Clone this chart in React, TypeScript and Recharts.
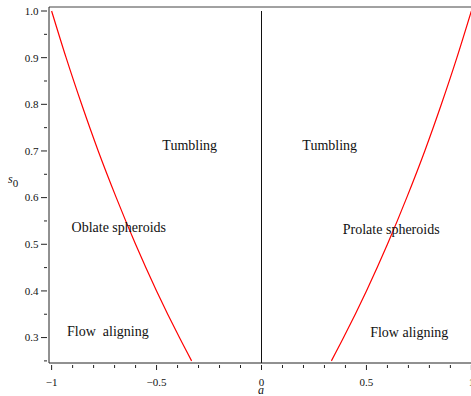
import React from "react";
import { LineChart, Line, XAxis, YAxis, ReferenceLine, ReferenceDot } from "recharts";

// Boundary curves (s0 vs a)
const rightA = [1.0, 0.931, 0.857, 0.778, 0.692, 0.6, 0.5, 0.391, 0.333];
const rightS = [1.0, 0.9, 0.8, 0.7, 0.6, 0.5, 0.4, 0.3, 0.25];
const leftA = [-1.0, -0.931, -0.857, -0.778, -0.692, -0.6, -0.5, -0.391, -0.333];
const leftS = [1.0, 0.9, 0.8, 0.7, 0.6, 0.5, 0.4, 0.3, 0.25];

const xTicks = [-1, -0.9, -0.8, -0.7, -0.6, -0.5, -0.4, -0.3, -0.2, -0.1, 0, 0.1, 0.2, 0.3, 0.4, 0.5, 0.6, 0.7, 0.8, 0.9, 1];
const xLabels = ["−1", "", "", "", "", "−0.5", "", "", "", "", "0", "", "", "", "", "0.5", "", "", "", "", "1"];
const yTicks = [0.25, 0.3, 0.35, 0.4, 0.45, 0.5, 0.55, 0.6, 0.65, 0.7, 0.75, 0.8, 0.85, 0.9, 0.95, 1.0];
const yLabels = ["", "0.3", "", "0.4", "", "0.5", "", "0.6", "", "0.7", "", "0.8", "", "0.9", "", "1.0"];

const regionText = ["Tumbling", "Tumbling", "Oblate spheroids", "Prolate spheroids", "Flow\u00A0 aligning", "Flow aligning"];
const regionA = [-0.342, 0.325, -0.68, 0.618, -0.732, 0.704];
const regionS = [0.713, 0.713, 0.538, 0.533, 0.313, 0.312];

const X_DOMAIN: [number, number] = [-1.0125, 1.0125];
const Y_DOMAIN: [number, number] = [0.2455, 1.0086];

const rightData = rightA.map((a, i) => ({ a, s: rightS[i] }));
const leftData = leftA.map((a, i) => ({ a, s: leftS[i] }));

const FONT = '"Liberation Serif", "Times New Roman", serif';
const AXIS = "#222";

const XTick = (props: any) => {
  const { x, y, payload } = props;
  const idx = xTicks.findIndex((v) => Math.abs(v - payload.value) < 1e-6);
  const label = idx >= 0 ? xLabels[idx] : "";
  const major = label !== "";
  return (
    <g>
      <line x1={x} x2={x} y1={y} y2={y + (major ? 5 : 3)} stroke={AXIS} strokeWidth={1} />
      {major && (
        <text x={x} y={y + 13} dy="0.71em" textAnchor="middle" fontSize={11} fill="#111" style={{ fontFamily: FONT }}>
          {label}
        </text>
      )}
    </g>
  );
};

const YTick = (props: any) => {
  const { x, y, payload } = props;
  const idx = yTicks.findIndex((v) => Math.abs(v - payload.value) < 1e-6);
  const label = idx >= 0 ? yLabels[idx] : "";
  const major = label !== "";
  return (
    <g>
      <line x1={x - (major ? 6 : 3)} x2={x} y1={y} y2={y} stroke={AXIS} strokeWidth={1} />
      {major && (
        <text x={x - 8.5} y={y} dy="0.35em" textAnchor="end" fontSize={11} fill="#111" style={{ fontFamily: FONT }}>
          {label}
        </text>
      )}
    </g>
  );
};

const YLabel = (props: any) => {
  const vb = props.viewBox || { x: 0, y: 0, width: 49, height: 356 };
  const cx = vb.x + 8;
  const cy = vb.y + vb.height * 0.495;
  return (
    <text x={cx} y={cy} fontSize={12} fill="#111" style={{ fontFamily: FONT }}>
      <tspan fontStyle="italic">s</tspan>
      <tspan dy={4} fontSize={11}>0</tspan>
    </text>
  );
};

const XLabel = (props: any) => {
  const vb = props.viewBox || { x: 49, y: 363, width: 425, height: 30 };
  return (
    <text x={vb.x + vb.width * 0.4986} y={vb.y + 30.5} textAnchor="middle" fontSize={12} fontStyle="italic" fill="#111" style={{ fontFamily: FONT }}>
      a
    </text>
  );
};

export default function App() {
  return (
    <div style={{ position: "absolute", left: 0, top: 0, width: 471, height: 396, overflow: "hidden", background: "#fff", fontFamily: FONT }}>
      <LineChart width={475} height={396} margin={{ top: 7, right: 1, bottom: 3, left: 0 }} style={{ fontFamily: FONT }}>
        <XAxis
          type="number"
          dataKey="a"
          domain={X_DOMAIN}
          ticks={xTicks}
          interval={0}
          allowDataOverflow
          height={30}
          tickSize={0}
          tickLine={false}
          axisLine={{ stroke: AXIS, strokeWidth: 1 }}
          tick={<XTick />}
          label={<XLabel />}
        />
        <YAxis
          type="number"
          dataKey="s"
          domain={Y_DOMAIN}
          ticks={yTicks}
          interval={0}
          allowDataOverflow
          width={49}
          tickSize={0}
          tickLine={false}
          axisLine={{ stroke: AXIS, strokeWidth: 1 }}
          tick={<YTick />}
          label={<YLabel />}
        />
        <ReferenceLine y={Y_DOMAIN[1]} stroke="#444" strokeWidth={1} ifOverflow="extendDomain" />
        <ReferenceLine
          segment={[{ x: 0, y: Y_DOMAIN[0] }, { x: 0, y: 1.0 }]}
          stroke="#111"
          strokeWidth={1}
        />
        <Line data={leftData} dataKey="s" type="monotone" stroke="#ff0000" strokeWidth={1.2} dot={false} isAnimationActive={false} />
        <Line data={rightData} dataKey="s" type="monotone" stroke="#ff0000" strokeWidth={1.2} dot={false} isAnimationActive={false} />
        {regionText.map((t, i) => (
          <ReferenceDot
            key={i}
            x={regionA[i]}
            y={regionS[i]}
            r={0}
            fill="none"
            stroke="none"
            label={{ value: t, position: "center", fontSize: 14, fill: "#111", fontFamily: FONT }}
          />
        ))}
      </LineChart>
    </div>
  );
}
